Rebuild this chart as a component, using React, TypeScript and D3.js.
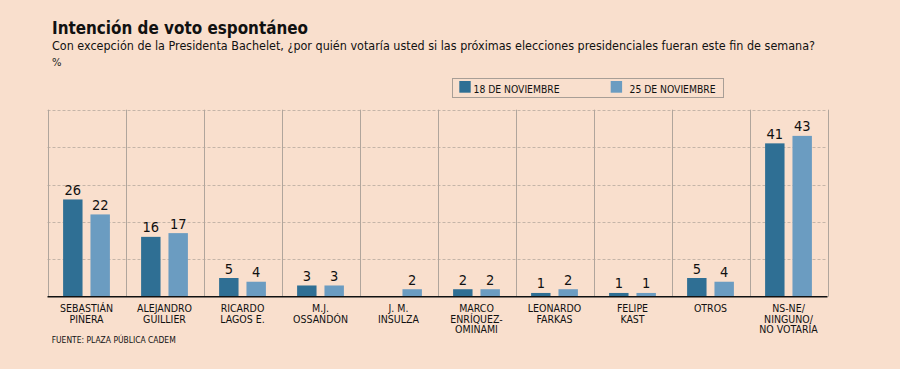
import React from "react";
import * as d3 from "d3";

const categories: string[][] = [
  ["SEBASTIÁN", "PIÑERA"],
  ["ALEJANDRO", "GUILLIER"],
  ["RICARDO", "LAGOS E."],
  ["M.J.", "OSSANDÓN"],
  ["J. M.", "INSULZA"],
  ["MARCO", "ENRÍQUEZ-", "OMINAMI"],
  ["LEONARDO", "FARKAS"],
  ["FELIPE", "KAST"],
  ["OTROS"],
  ["NS-NE/", "NINGUNO/", "NO VOTARÍA"],
];
const seriesNames = ["18 DE NOVIEMBRE", "25 DE NOVIEMBRE"];
const nov18: (number | null)[] = [26, 16, 5, 3, null, 2, 1, 1, 5, 41];
const nov25: (number | null)[] = [22, 17, 4, 3, 2, 2, 2, 1, 4, 43];
const yTicks = [0, 10, 20, 30, 40, 50];

const title = "Intención de voto espontáneo";
const subtitle =
  "Con excepción de la Presidenta Bachelet, ¿por quién votaría usted si las próximas elecciones presidenciales fueran este fin de semana?";
const unit = "%";
const source = "FUENTE: PLAZA PÚBLICA CADEM";

const W = 900;
const H = 369;
const BG = "#f9dfcd";
const C1 = "#2f6f94";
const C2 = "#6b9cc1";
const FONT = "'DejaVu Sans', Verdana, sans-serif";

export default function App() {
  const left = 47.5;
  const right = 827.5;
  const top = 109.7;
  const bottom = 296.7;

  const keys = categories.map((_, i) => String(i));
  const x0 = d3.scaleBand<string>().domain(keys).range([left, right]).padding(0);
  const x1 = d3
    .scaleBand<string>()
    .domain(seriesNames)
    .range([0, x0.bandwidth()])
    .paddingInner(0.29)
    .paddingOuter(0.57);
  const y = d3.scaleLinear().domain([0, 50]).range([bottom, top]);
  const data = [nov18, nov25];
  const colors = [C1, C2];

  const boundaries = keys.map((k) => x0(k)!).concat([right]);

  return (
    <div style={{ position: "absolute", left: 0, top: 0 }}>
      <svg width={W} height={H} style={{ display: "block" }}>
        <rect x={0} y={0} width={W} height={H} fill={BG} />
        <text x={52} y={34} fontFamily={FONT} fontWeight="bold" fontSize={18} fontStretch="condensed" textLength={256} lengthAdjust="spacingAndGlyphs" fill="#111">
          {title}
        </text>
        <text x={52} y={50} fontFamily={FONT} fontSize={13} fontStretch="condensed" textLength={763} lengthAdjust="spacingAndGlyphs" fill="#111">
          {subtitle}
        </text>
        <text x={52} y={66} fontFamily={FONT} fontSize={10} fill="#222">
          {unit}
        </text>

        {/* legend */}
        <rect x={452.5} y={78.5} width={271} height={19} fill="none" stroke="#a89e96" strokeWidth={1} />
        {seriesNames.map((s, i) => {
          const lx = i === 0 ? 459.3 : 610.7;
          const tx = i === 0 ? 473.5 : 629.5;
          return (
            <g key={s}>
              <rect x={lx} y={81} width={11.4} height={11.7} fill={colors[i]} />
              <text x={tx} y={92.5} fontFamily={FONT} fontSize={11} fontStretch="condensed" textLength={86} lengthAdjust="spacingAndGlyphs" fill="#111">
                {s}
              </text>
            </g>
          );
        })}

        {/* gridlines */}
        {yTicks.slice(1).map((t) => (
          <line key={t} x1={left} x2={right} y1={Math.round(y(t)) + 0.5} y2={Math.round(y(t)) + 0.5} stroke="#c5b5a8" strokeDasharray="3,2" strokeWidth={1} />
        ))}
        {boundaries.map((bx, i) => (
          <line key={i} x1={Math.round(bx) + 0.5} x2={Math.round(bx) + 0.5} y1={top} y2={bottom} stroke="#b0a59c" strokeWidth={1} />
        ))}

        {/* bars */}
        {keys.map((k, ci) => (
          <g key={k} transform={`translate(${x0(k)},0)`}>
            {data.map((ser, si) => {
              const v = ser[ci];
              if (v == null) return null;
              const bx = x1(seriesNames[si])!;
              const bw = x1.bandwidth();
              return (
                <g key={si}>
                  <rect x={bx} y={y(v)} width={bw} height={bottom - y(v)} fill={colors[si]} />
                  <text x={bx + bw / 2} y={y(v) - 4.5} textAnchor="middle" fontFamily={FONT} fontSize={14.5} fontStretch="condensed" fill="#111">
                    {v}
                  </text>
                </g>
              );
            })}
          </g>
        ))}

        <line x1={left} x2={right} y1={bottom} y2={bottom} stroke="#111" strokeWidth={1.5} />

        {/* category labels */}
        {keys.map((k, ci) => (
          <text key={k} textAnchor="middle" fontFamily={FONT} fontSize={10.5} fontStretch="condensed" fill="#111">
            {categories[ci].map((line, li) => (
              <tspan key={li} x={x0(k)! + x0.bandwidth() / 2} y={311.7 + li * 10.8}>
                {line}
              </tspan>
            ))}
          </text>
        ))}

        <text x={51.7} y={343} fontFamily={FONT} fontSize={9.5} fontStretch="condensed" textLength={124} lengthAdjust="spacingAndGlyphs" fill="#111">
          {source}
        </text>
      </svg>
    </div>
  );
}
